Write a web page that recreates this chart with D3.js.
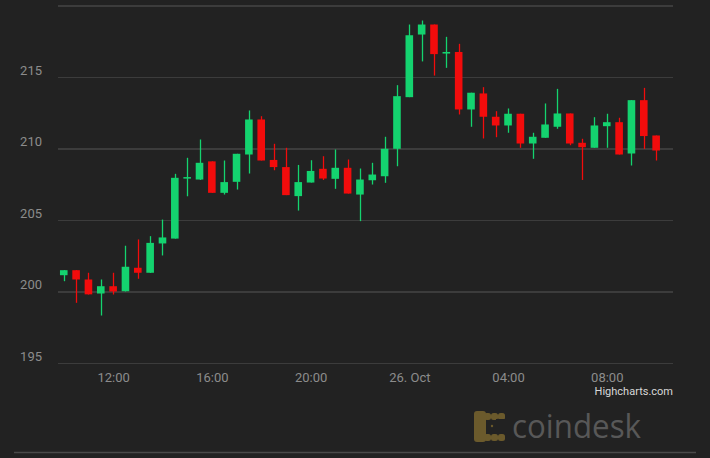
<!DOCTYPE html>
<html>
<head>
<meta charset="utf-8">
<script src="https://cdn.jsdelivr.net/npm/d3@7"></script>
<style>
  html, body { margin: 0; padding: 0; background: #222222; }
  svg { display: block; }
</style>
</head>
<body>
<svg id="chart" width="710" height="458"></svg>
<script>
// ---- Data (30-minute candles, Oct 25 10:00 -> Oct 26 10:00) ----
const times = [
  "2019-10-25T10:00Z","2019-10-25T10:30Z","2019-10-25T11:00Z","2019-10-25T11:30Z",
  "2019-10-25T12:00Z","2019-10-25T12:30Z","2019-10-25T13:00Z","2019-10-25T13:30Z",
  "2019-10-25T14:00Z","2019-10-25T14:30Z","2019-10-25T15:00Z","2019-10-25T15:30Z",
  "2019-10-25T16:00Z","2019-10-25T16:30Z","2019-10-25T17:00Z","2019-10-25T17:30Z",
  "2019-10-25T18:00Z","2019-10-25T18:30Z","2019-10-25T19:00Z","2019-10-25T19:30Z",
  "2019-10-25T20:00Z","2019-10-25T20:30Z","2019-10-25T21:00Z","2019-10-25T21:30Z",
  "2019-10-25T22:00Z","2019-10-25T22:30Z","2019-10-25T23:00Z","2019-10-25T23:30Z",
  "2019-10-26T00:00Z","2019-10-26T00:30Z","2019-10-26T01:00Z","2019-10-26T01:30Z",
  "2019-10-26T02:00Z","2019-10-26T02:30Z","2019-10-26T03:00Z","2019-10-26T03:30Z",
  "2019-10-26T04:00Z","2019-10-26T04:30Z","2019-10-26T05:00Z","2019-10-26T05:30Z",
  "2019-10-26T06:00Z","2019-10-26T06:30Z","2019-10-26T07:00Z","2019-10-26T07:30Z",
  "2019-10-26T08:00Z","2019-10-26T08:30Z","2019-10-26T09:00Z","2019-10-26T09:30Z",
  "2019-10-26T10:00Z"
];
const open = [
  201.14, 201.49, 200.84, 199.86, 200.37, 200.02, 201.66, 201.31, 203.36, 203.70,
  207.90, 207.83, 209.10, 206.90, 207.67, 209.58, 212.03, 209.20, 208.70, 206.67,
  207.62, 208.58, 207.88, 208.65, 206.78, 207.78, 208.06, 209.98, 213.59, 217.97,
  218.67, 216.64, 216.75, 212.73, 213.85, 212.22, 211.61, 212.43, 210.35, 210.75,
  211.52, 212.45, 210.40, 210.05, 211.56, 211.84, 209.65, 213.38, 210.91
];
const high = [
  201.50, 201.50, 201.31, 200.84, 201.31, 203.20, 203.64, 203.87, 205.03, 208.23,
  209.35, 210.63, 209.10, 209.16, 209.63, 212.66, 212.26, 210.33, 210.05, 208.85,
  209.18, 209.46, 209.93, 209.23, 208.60, 209.00, 210.82, 214.43, 218.67, 218.95,
  218.67, 217.81, 217.32, 213.90, 214.29, 212.61, 212.80, 212.43, 211.10, 213.15,
  214.17, 212.45, 210.68, 212.19, 212.43, 212.15, 213.38, 214.24, 210.91
];
const low = [
  200.72, 199.21, 199.79, 198.32, 199.79, 200.00, 200.89, 201.30, 202.52, 203.70,
  206.66, 207.80, 206.90, 206.78, 207.13, 208.25, 209.16, 208.48, 206.74, 205.66,
  207.62, 207.80, 207.18, 206.85, 204.92, 207.48, 207.60, 208.76, 213.59, 216.09,
  215.10, 215.64, 212.38, 211.52, 210.70, 210.79, 211.10, 210.05, 209.28, 210.75,
  211.38, 210.23, 207.80, 210.05, 210.05, 209.58, 208.81, 209.97, 209.16
];
const close = [
  201.49, 200.84, 199.80, 200.37, 200.00, 201.73, 201.31, 203.40, 203.78, 207.95,
  208.00, 209.00, 206.90, 207.65, 209.63, 212.03, 209.16, 208.70, 206.74, 207.65,
  208.43, 207.90, 208.65, 206.85, 207.83, 208.18, 209.98, 213.66, 217.92, 218.67,
  216.60, 216.75, 212.73, 213.90, 212.22, 211.61, 212.43, 210.35, 210.82, 211.68,
  212.45, 210.35, 210.09, 211.61, 211.84, 209.58, 213.38, 210.87, 209.86
];
const yTicks = [195, 200, 205, 210, 215, 220];
const yTickLabels = ["195", "200", "205", "210", "215", ""];
const xTickTimes = ["2019-10-25T12:00Z","2019-10-25T16:00Z","2019-10-25T20:00Z",
                    "2019-10-26T00:00Z","2019-10-26T04:00Z","2019-10-26T08:00Z"];
const xTickLabels = ["12:00", "16:00", "20:00", "26. Oct", "04:00", "08:00"];

// ---- Layout ----
const W = 710, H = 458;
const plot = { left: 58, right: 673, top: 5.5, bottom: 363 };
const colors = { bg: "#222222", grid: "#3c3c3c", label: "#8c8c8c",
                 up: "#14d36f", down: "#f20c0c", credit: "#d8d8d8" };

const svg = d3.select("#chart");
svg.append("rect").attr("width", W).attr("height", H).attr("fill", colors.bg);

const data = times.map((t, i) => ({
  t: new Date(t), o: open[i], h: high[i], l: low[i], c: close[i]
}));

const x = d3.scaleUtc()
  .domain([new Date("2019-10-25T09:46Z"), new Date("2019-10-26T10:41Z")])
  .range([plot.left, plot.right]);
const y = d3.scaleLinear().domain([195, 220]).range([plot.bottom, plot.top]);

// Gridlines + y labels
const yAxis = d3.axisLeft(y).tickValues(yTicks)
  .tickSize(-(plot.right - plot.left))
  .tickFormat((d, i) => yTickLabels[i]);
const gy = svg.append("g").attr("transform", `translate(${plot.left},0)`).call(yAxis);
gy.select(".domain").remove();
gy.selectAll(".tick line").attr("stroke", colors.grid).attr("stroke-width", 1.2)
  .attr("shape-rendering", "crispEdges");
gy.selectAll(".tick text")
  .attr("x", -16).attr("dy", "-0.2em")
  .attr("fill", colors.label)
  .style("font-family", "Roboto, 'Liberation Sans', sans-serif")
  .style("font-size", "13px");

// X axis labels
const xAxis = d3.axisBottom(x)
  .tickValues(xTickTimes.map(s => new Date(s)))
  .tickSize(0)
  .tickFormat((d, i) => xTickLabels[i]);
const gx = svg.append("g").attr("transform", `translate(0,${plot.bottom})`).call(xAxis);
gx.select(".domain").remove();
gx.selectAll(".tick text")
  .attr("y", 10).attr("dy", "0.71em")
  .attr("fill", colors.label)
  .style("font-family", "Roboto, 'Liberation Sans', sans-serif")
  .style("font-size", "13px");

// Candles
const bw = 7.6;
const g = svg.append("g");
const candle = g.selectAll("g.candle").data(data).join("g").attr("class", "candle");
candle.append("line")
  .attr("x1", d => Math.round(x(d.t)) + 0.5)
  .attr("x2", d => Math.round(x(d.t)) + 0.5)
  .attr("y1", d => y(d.h)).attr("y2", d => y(d.l))
  .attr("stroke", d => d.c >= d.o ? colors.up : colors.down)
  .attr("stroke-width", 1.3);
candle.append("rect")
  .attr("x", d => x(d.t) - bw / 2)
  .attr("width", bw)
  .attr("y", d => y(Math.max(d.o, d.c)))
  .attr("height", d => Math.max(1.5, Math.abs(y(d.o) - y(d.c))))
  .attr("fill", d => d.c >= d.o ? colors.up : colors.down);

// Credits
svg.append("text")
  .attr("x", plot.right).attr("y", 395)
  .attr("text-anchor", "end")
  .attr("fill", colors.credit)
  .style("font-family", "Roboto, 'Liberation Sans', sans-serif")
  .style("font-size", "11px")
  .text("Highcharts.com");

// Coindesk watermark
const wm = svg.append("g").attr("fill", "#6b5a2c");
const dots = [[477,413],[484,413],[491,413],[498,413],[477,420],[477,427],[477,434],
              [484,434],[491,434],[498,434],[498,420],[498,427]];
dots.forEach(([cx, cy]) => {
  wm.append("rect").attr("x", cx).attr("y", cy).attr("width", 7).attr("height", 7).attr("rx", 2.5);
});
wm.append("rect").attr("x", 474).attr("y", 411).attr("width", 12).attr("height", 31).attr("rx", 3);
svg.append("rect").attr("x", 496).attr("y", 419).attr("width", 10).attr("height", 15).attr("fill", colors.bg);
svg.append("circle").attr("cx", 492).attr("cy", 426).attr("r", 1.2).attr("fill", "#6b5a2c");
svg.append("text")
  .attr("x", 512).attr("y", 438)
  .attr("fill", "#585858")
  .attr("textLength", 129).attr("lengthAdjust", "spacingAndGlyphs")
  .style("font-family", "'Open Sans', 'Noto Sans', sans-serif")
  .style("font-size", "33px")
  .text("coindesk");

// Bottom separator line
svg.append("line")
  .attr("x1", 14).attr("x2", 696).attr("y1", 452.5).attr("y2", 452.5)
  .attr("stroke", "#4a4a4a").attr("stroke-width", 1.5);
</script>
</body>
</html>
